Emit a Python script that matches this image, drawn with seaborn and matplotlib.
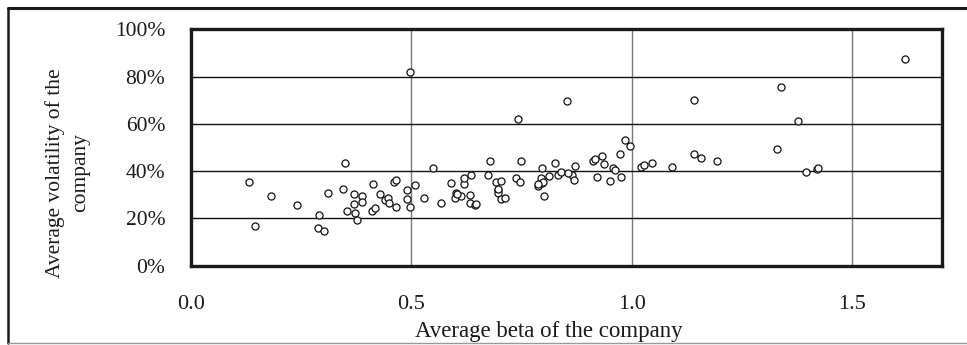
import matplotlib
matplotlib.use("Agg")
import matplotlib.pyplot as plt
from matplotlib.lines import Line2D
import seaborn as sns
import pandas as pd

beta = [0.132, 0.144, 0.181, 0.241, 0.291, 0.287, 0.301, 0.310, 0.345, 0.350,
        0.354, 0.370, 0.370, 0.373, 0.377, 0.387, 0.387, 0.410, 0.413, 0.417,
        0.429, 0.440, 0.447, 0.448, 0.461, 0.464, 0.465, 0.489, 0.490, 0.496,
        0.497, 0.508, 0.528, 0.549, 0.567, 0.590, 0.598, 0.601, 0.613, 0.618,
        0.620, 0.633, 0.634, 0.633, 0.643, 0.646, 0.674, 0.678, 0.692, 0.696,
        0.702, 0.696, 0.702, 0.713, 0.738, 0.741, 0.745, 0.749, 0.786, 0.793,
        0.796, 0.797, 0.800, 0.812, 0.825, 0.832, 0.839, 0.853, 0.864, 0.868,
        0.871, 0.912, 0.916, 0.920, 0.933, 0.937, 0.951, 0.958, 0.962, 0.972,
        0.976, 0.985, 0.996, 1.021, 1.028, 1.045, 1.090, 1.141, 1.141, 1.157,
        1.192, 1.329, 1.338, 1.377, 1.394, 1.420, 1.422, 1.620,
        0.799, 0.788, 0.854, 0.603, 0.697]
volatility = [35.3, 16.8, 29.3, 25.5, 21.4, 16.1, 14.5, 30.9, 32.3, 43.4,
              23.3, 30.3, 26.0, 22.1, 19.5, 29.6, 26.8, 23.3, 34.6, 24.3,
              30.5, 27.6, 28.8, 26.7, 35.5, 36.1, 25.0, 32.0, 28.2, 25.0,
              82.1, 34.1, 28.5, 41.2, 26.4, 35.1, 28.5, 30.6, 29.5, 34.7,
              37.0, 29.9, 38.4, 26.5, 25.7, 26.1, 38.4, 44.1, 35.4, 32.0,
              35.8, 30.6, 28.1, 28.5, 37.0, 62.1, 35.5, 44.1, 33.9, 37.0,
              41.2, 35.1, 29.3, 37.9, 43.3, 38.4, 39.8, 69.5, 38.2, 36.1,
              42.2, 44.3, 45.1, 37.7, 46.4, 43.0, 36.0, 41.2, 40.5, 47.1,
              37.7, 53.2, 50.8, 41.9, 42.7, 43.6, 41.9, 70.0, 47.1, 45.7,
              44.1, 49.4, 75.5, 61.4, 39.6, 40.8, 41.3, 87.3,
              35.3, 34.6, 39.1, 30.3, 32.3]

x_ticks = [0.0, 0.5, 1.0, 1.5]
x_tick_labels = ["0.0", "0.5", "1.0", "1.5"]
y_ticks = [0, 20, 40, 60, 80, 100]
y_tick_labels = ["0%", "20%", "40%", "60%", "80%", "100%"]

df = pd.DataFrame({"beta": beta, "vol": volatility})

sns.set_style("white")
plt.rcParams["font.family"] = ["Liberation Serif", "DejaVu Serif"]

fig = plt.figure(figsize=(9.67, 3.45), dpi=100)
ax = fig.add_axes([191 / 967, 1 - 265.7 / 345, (942 - 191) / 967, (265.7 - 29.3) / 345])

# gridlines
for xv in x_ticks[1:]:
    ax.axvline(xv, color="#7a7a7a", lw=1.0, zorder=1)
for yv in y_ticks[1:-1]:
    ax.axhline(yv, color="#111111", lw=1.0, zorder=1)

sns.scatterplot(data=df, x="beta", y="vol", ax=ax, marker="o", s=26,
                facecolor="white", edgecolor="#111111", linewidth=0.9, zorder=3,
                legend=False)

ax.set_xlim(0, 1.703)
ax.set_ylim(0, 100)
ax.set_xticks(x_ticks)
ax.set_xticklabels(x_tick_labels)
ax.set_yticks(y_ticks)
ax.set_yticklabels(y_tick_labels)
ax.tick_params(axis="both", direction="out", length=4.5, width=1, color="#555555",
               labelcolor="#1a1a1a")
ax.tick_params(axis="x", pad=16.5, labelsize=16)
ax.tick_params(axis="y", pad=14, labelsize=15.5)
for sp in ax.spines.values():
    sp.set_visible(True)
    sp.set_linewidth(2.4)
    sp.set_color("#1a1a1a")

ax.set_xlabel("")
ax.set_ylabel("")
fig.text(549 / 967, 1 - 331 / 345, "Average beta of the company", ha="center", va="center",
         fontsize=16.5, color="#1a1a1a")
fig.text(67.5 / 967, 1 - 173 / 345, "Average volatility of the\ncompany", ha="center", va="center",
         rotation=90, fontsize=15.5, color="#1a1a1a", linespacing=1.45)

# outer frame
fig.add_artist(Line2D([8 / 967, 1.0], [1 - 8 / 345, 1 - 8 / 345], transform=fig.transFigure,
                      color="#1a1a1a", lw=2.2))
fig.add_artist(Line2D([8 / 967, 8 / 967], [1 - 8 / 345, 1 - 343 / 345], transform=fig.transFigure,
                      color="#1a1a1a", lw=1.8))
fig.add_artist(Line2D([8 / 967, 1.0], [1 - 343 / 345, 1 - 343 / 345], transform=fig.transFigure,
                      color="#999999", lw=1.0))

fig.savefig("out.png", dpi=100)
